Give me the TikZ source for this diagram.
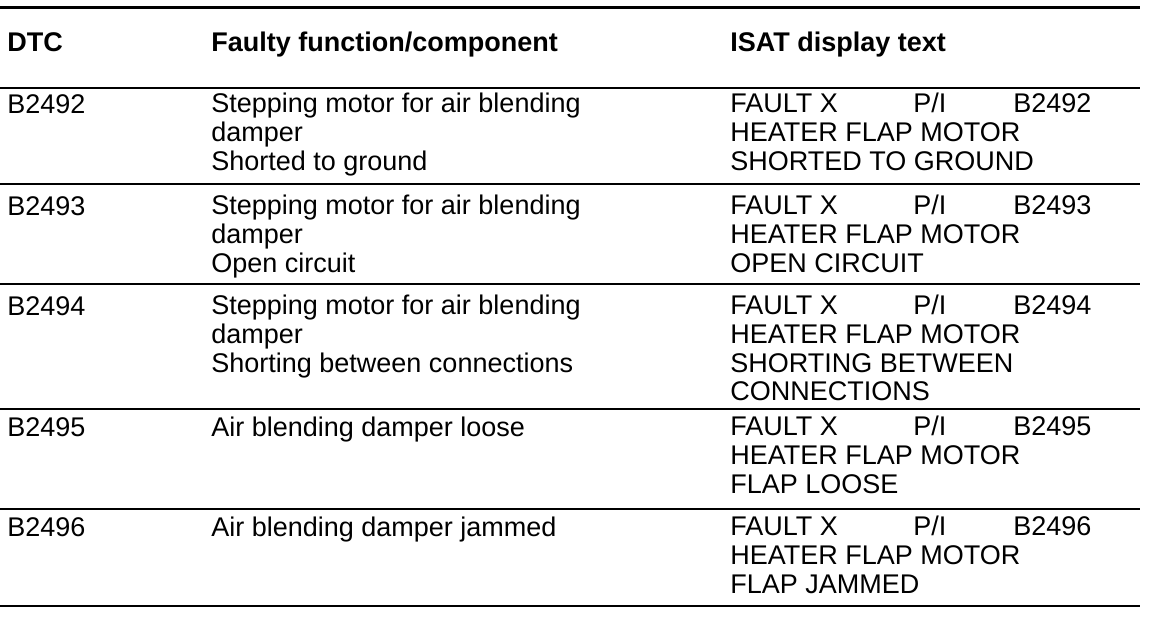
\documentclass[tikz,border=0pt]{standalone}
\usepackage{fontspec}
\setmainfont{Liberation Sans}
\usetikzlibrary{positioning}

\newcommand{\faultline}[1]{\makebox[91.5pt][l]{FAULT X}\makebox[50pt][l]{P/I}B#1}

\begin{document}
\begin{tikzpicture}[x=0.5pt,y=-0.5pt,
    every node/.style={font=\fontsize{13.5}{14.3}\selectfont, inner sep=0pt, anchor=north west, align=left,
      execute at begin node={\rule{0pt}{10pt}}},
    head/.style={font=\fontsize{13.5}{14.3}\selectfont\bfseries},
    rule/.style={line width=1pt}]
        \useasboundingbox (0,0) rectangle (1152,622);
        \draw[rule, line width=1.5pt] (0,7) -- (1140,7);
        \foreach \y in {88,184,284,409,509}
        \draw[rule] (0,\y) -- (1140,\y);
        \draw[rule, line width=1.2pt] (0,606) -- (1140,606);
        
        % header row (baseline 20px below the given y)
        \node[head] at (7,31)   (hdtc)  {DTC};
        \node[head] at (211,31) (hfunc) {Faulty function/component};
        \node[head] at (730,31) (hisat) {ISAT display text};
        
        \foreach \code/\y/\func/\msg in {
          2492/93/{Stepping motor for air blending\\damper\\Shorted to ground}/{SHORTED TO GROUND},
          2493/195/{Stepping motor for air blending\\damper\\Open circuit}/{OPEN CIRCUIT},
          2494/295/{Stepping motor for air blending\\damper\\Shorting between connections}/{SHORTING BETWEEN\\CONNECTIONS},
          2495/416/{Air blending damper loose}/{FLAP LOOSE},
          2496/516/{Air blending damper jammed}/{FLAP JAMMED}}
        {
          \node at (7,\y)   (dtc\code)  {B\code};
          \node at (211,\y) (func\code) {\func};
          \node at (730,\y) (isat\code) {\faultline{\code}\\HEATER FLAP MOTOR\\\msg};
        }
      \end{tikzpicture}
\end{document}
